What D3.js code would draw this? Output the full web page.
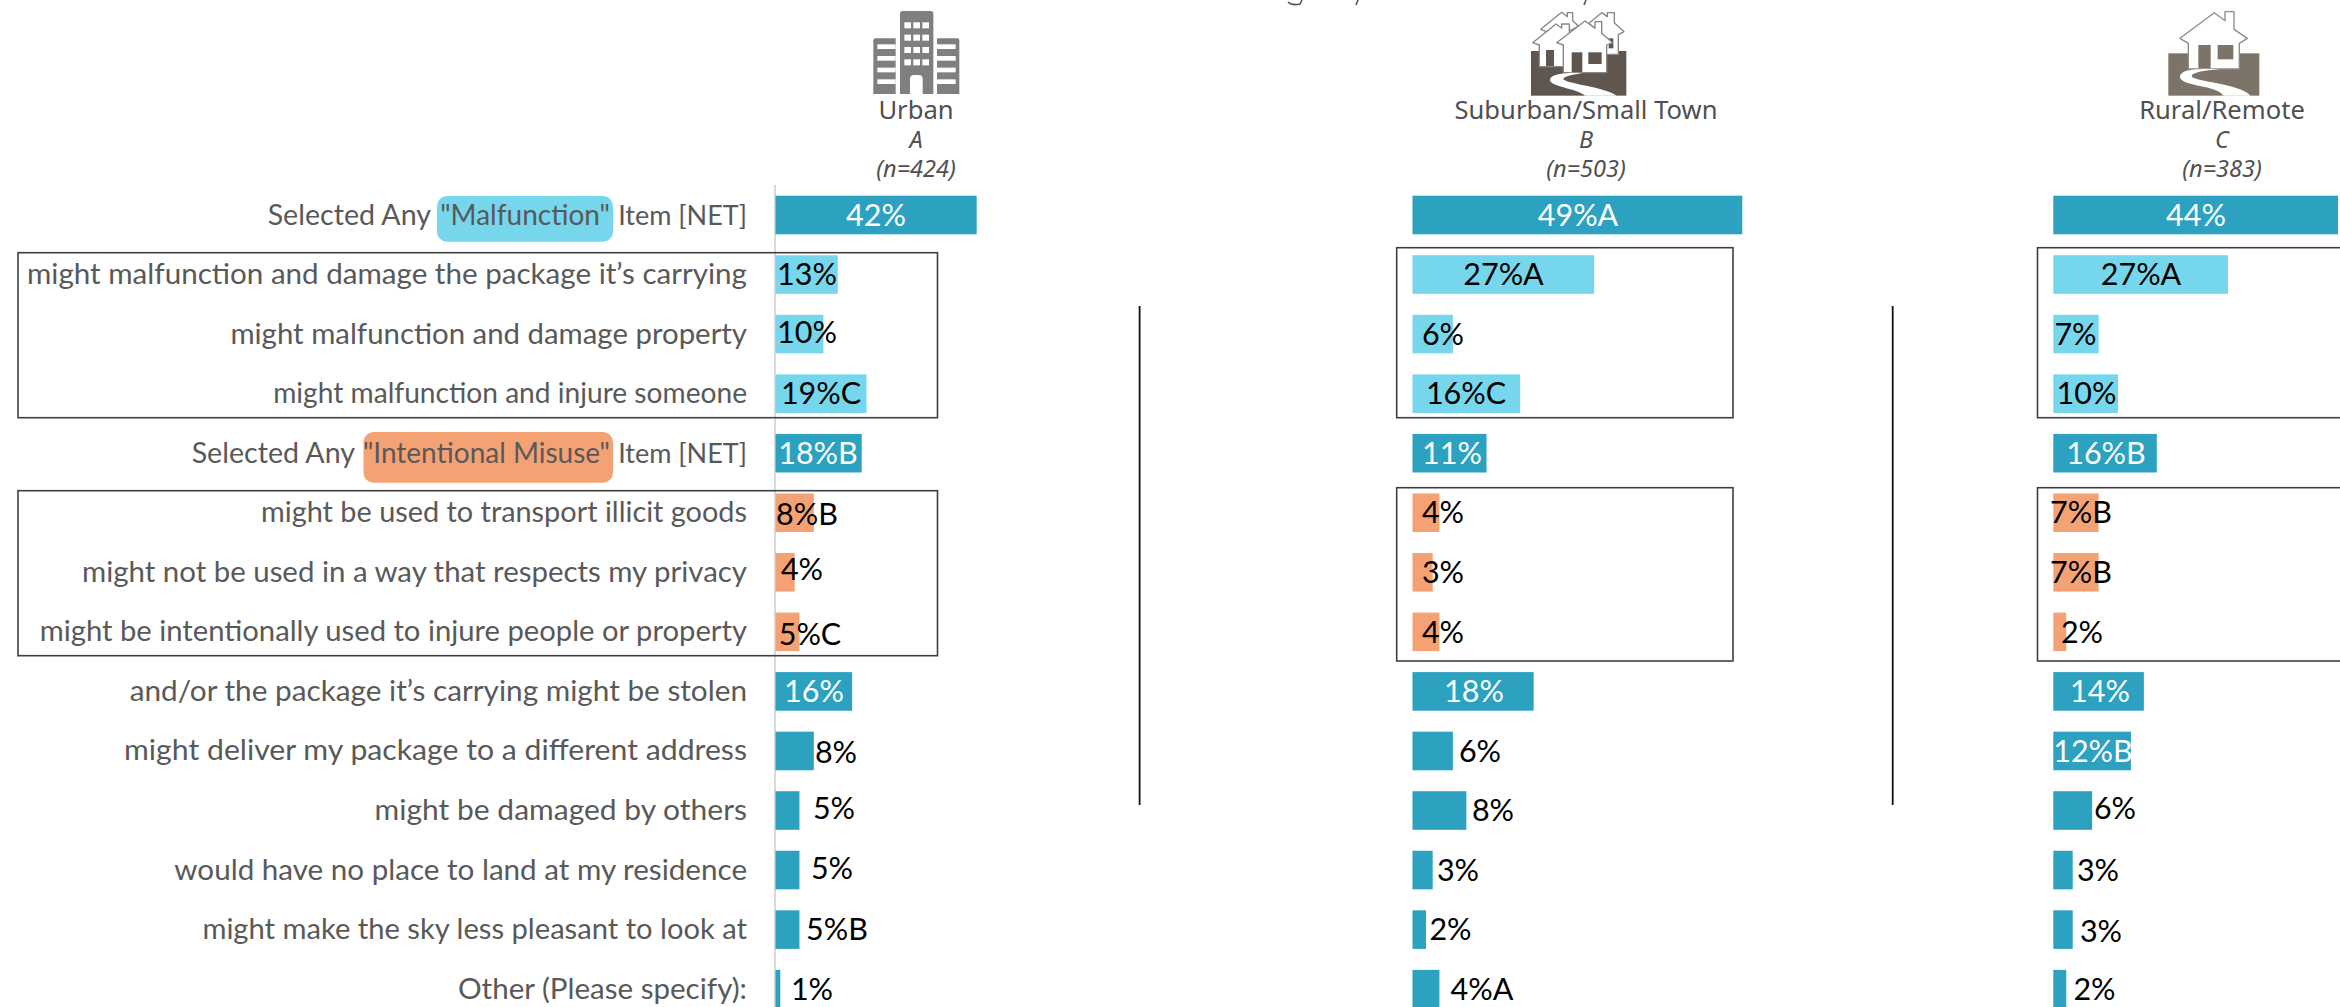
<!DOCTYPE html>
<html><head><meta charset="utf-8">
<script src="https://cdn.jsdelivr.net/npm/d3@7"></script>
<style>html,body{margin:0;padding:0;background:#fff;overflow:hidden}svg{display:block}</style>
</head><body><svg id="c" width="2340" height="1007"></svg>
<script>
const rowLabels = [
 'Selected Any "Malfunction" Item [NET]',
 'might malfunction and damage the package it’s carrying',
 'might malfunction and damage property',
 'might malfunction and injure someone',
 'Selected Any "Intentional Misuse" Item [NET]',
 'might be used to transport illicit goods',
 'might not be used in a way that respects my privacy',
 'might be intentionally used to injure people or property',
 'and/or the package it’s carrying might be stolen',
 'might deliver my package to a different address',
 'might be damaged by others',
 'would have no place to land at my residence',
 'might make the sky less pleasant to look at',
 'Other (Please specify):'
];
const rowGroup = ['net','mal','mal','mal','net','mis','mis','mis','net','net','net','net','net','net'];
const urbanValues    = [42,13,10,19,18,8,4,5,16,8,5,5,5,1];
const suburbanValues = [49,27,6,16,11,4,3,4,18,6,8,3,2,4];
const ruralValues    = [44,27,7,10,16,7,7,2,14,12,6,3,3,2];
const urbanSig    = ['','','','C','B','B','','C','','','','','B',''];
const suburbanSig = ['A','A','','C','','','','','','','','','','A'];
const ruralSig    = ['','A','','','B','B','B','','','B','','','',''];
const segmentNames = ['Urban','Suburban/Small Town','Rural/Remote'];
const segmentLetters = ['A','B','C'];
const segmentBases = ['(n=424)','(n=503)','(n=383)'];

// layout
const rowLabelWidth  = [481.5,720,516.6,473.8,557.4,486,665,707.3,617.3,623,372.4,572.7,544.6,289];
const urbanLabelX    = [876,807,807,821,818,807,802,810,814,836,834,832,837,812];
const suburbanLabelX = [1578,1503.5,1443,1466,1452,1443,1443,1443,1474,1480,1493,1458,1450.5,1482];
const ruralLabelX    = [2196,2141,2075.5,2086.5,2106,2081,2081,2082,2100,2093,2115,2098,2101,2094.5];
const urbanLabelDy    = [0,0,-2,0,0,2,-3,2.5,0,1,-2,-2,0,0];
const suburbanLabelDy = [0,0,0,0,0,0,0,0,0,0,0,0,0,0];
const ruralLabelDy    = [0,0,0,0,0,0,0,0,0,0,-2,0,2,0];
const colors = {net:'#2CA2C0', mal:'#76D6EC', mis:'#F4A274'};
const FONT = 'Lato, sans-serif', HEAD = '"Noto Sans", sans-serif';

const svg = d3.select('#c');
const y = d3.scaleBand().domain(rowLabels).range([195.7,1008.45]).paddingInner(0.352).paddingOuter(0);

// highlight pills behind category labels
const pills = [[437,196,176,45.7,colors.mal],[363.5,432,249.5,50.7,colors.mis]];
svg.selectAll('rect.pill').data(pills).join('rect').attr('class','pill')
  .attr('x',d=>d[0]).attr('y',d=>d[1]).attr('width',d=>d[2]).attr('height',d=>d[3])
  .attr('rx',10).attr('fill',d=>d[4]);

// baseline
svg.append('line').attr('x1',775).attr('x2',775).attr('y1',185).attr('y2',1007)
  .attr('stroke','#d9d9d9').attr('stroke-width',2);

// category axis
const axis = svg.append('g').attr('transform','translate(747,0)')
  .call(d3.axisLeft(y).tickSize(0).tickPadding(0));
axis.select('.domain').remove();
axis.selectAll('text').attr('font-family',FONT).attr('font-size',28).attr('fill','#595959')
  .attr('dy','0.34em').attr('x',0)
  .attr('textLength',(d,i)=>rowLabelWidth[i]).attr('lengthAdjust','spacingAndGlyphs');
// the two NET rows: three pieces, so the quoted term sits on its pill
const pieceEnds = {0:[-316,-137,0], 4:[-392,-137,0]};
const pieceSizes = [28.6,28,27];
axis.selectAll('text').each(function(d,i){
  if(!pieceEnds[i]) return;
  const m = d.match(/^(.*?) (".*?") (.*)$/);
  const t = d3.select(this).attr('textLength',null).attr('lengthAdjust',null).text(null);
  [m[1],m[2],m[3]].forEach((part,j)=>t.append('tspan').attr('x',pieceEnds[i][j]).attr('font-size',pieceSizes[j]).text(part));
});

const panels = [
 {values:urbanValues, sig:urbanSig, lx:urbanLabelX, ly:urbanLabelDy, x0:775.5, k:4.79},
 {values:suburbanValues, sig:suburbanSig, lx:suburbanLabelX, ly:suburbanLabelDy, x0:1412.5, k:6.73},
 {values:ruralValues, sig:ruralSig, lx:ruralLabelX, ly:ruralLabelDy, x0:2053.3, k:6.47}
];
// frames (under the bars)
const frames = [
 [18,252.7,919.5,165],[18,490.7,919.5,165],
 [1396.7,247.7,336.3,170],[1396.7,487.7,336.3,173.3],
 [2037.5,247.7,320,170],[2037.5,487.7,320,173.3]
];
svg.selectAll('rect.frame').data(frames).join('rect').attr('class','frame')
  .attr('x',d=>d[0]).attr('y',d=>d[1]).attr('width',d=>d[2]).attr('height',d=>d[3])
  .attr('fill','none').attr('stroke','#404040').attr('stroke-width',1.6);

panels.forEach(p=>{
  const x = d3.scaleLinear().domain([0,100]).range([p.x0,p.x0+100*p.k]);
  const g = svg.append('g');
  g.selectAll('rect').data(p.values).join('rect')
    .attr('x',x(0)).attr('y',(d,i)=>y(rowLabels[i]))
    .attr('width',d=>x(d)-x(0)).attr('height',y.bandwidth())
    .attr('fill',(d,i)=>colors[rowGroup[i]]);
  g.selectAll('text').data(p.values).join('text')
    .attr('x',(d,i)=>p.lx[i]).attr('y',(d,i)=>y(rowLabels[i])+y.bandwidth()/2+p.ly[i])
    .attr('dy','0.35em').attr('text-anchor','middle')
    .attr('font-family',FONT).attr('font-size',30.5)
    .attr('fill',(d,i)=>rowGroup[i]==='net'&&d>=11?'#fff':'#000')
    .text((d,i)=>d+'%'+p.sig[i]);
});

// separators
svg.selectAll('line.sep').data([1139.6,1892.7]).join('line').attr('class','sep')
  .attr('x1',d=>d).attr('x2',d=>d).attr('y1',306).attr('y2',805)
  .attr('stroke','#111').attr('stroke-width',1.8);

// headers
const headX = [916,1586,2222];
headX.forEach((cx,i)=>{
  svg.append('text').attr('x',cx).attr('y',119).attr('text-anchor','middle').attr('font-family',HEAD)
    .attr('font-size',25.6).attr('fill','#505050').text(segmentNames[i]);
  svg.append('text').attr('x',cx).attr('y',148).attr('text-anchor','middle').attr('font-family',HEAD)
    .attr('font-size',23.5).attr('font-style','italic').attr('fill','#505050').text(segmentLetters[i]);
  svg.append('text').attr('x',cx).attr('y',177).attr('text-anchor','middle').attr('font-family',HEAD)
    .attr('font-size',23.5).attr('font-style','italic').attr('fill','#505050').text(segmentBases[i]);
});

// icons (drawn in 3x crop units)
function icon(tx){ return svg.append('g').attr('transform',`translate(${tx},0) scale(${1/3})`); }
// building
const b = icon(840), bc='#7f7f7f';
b.append('path').attr('fill',bc).attr('d','M188 33H272Q280 33 280 41V282H180V41Q180 33 188 33Z');
b.append('path').attr('fill',bc).attr('d','M106 115H167V282H100V121Q100 115 106 115Z');
b.append('path').attr('fill',bc).attr('d','M291 115H352Q358 115 358 121V282H291Z');
[67,104,141,178].forEach(wy=>[193,220,247].forEach(wx=>
  b.append('rect').attr('x',wx).attr('y',wy).attr('width',20).attr('height',18).attr('fill','#fff')));
[133,168,203,238].forEach(sy=>{
  b.append('rect').attr('x',112).attr('y',sy).attr('width',55).attr('height',14).attr('fill','#fff');
  b.append('rect').attr('x',291).attr('y',sy).attr('width',56).attr('height',14).attr('fill','#fff');
});
b.append('path').attr('fill','#fff').attr('d','M210 282V237Q210 225 222 225H236Q248 225 248 237V282Z');

// suburb
const s = icon(1450), sc='#5F574F', so='#8a8580';
s.append('rect').attr('x',243).attr('y',153).attr('width',286).attr('height',134).attr('fill',sc);
const house=(g,d,stroke)=>g.append('path').attr('d',d).attr('fill','#fff').attr('stroke',stroke).attr('stroke-width',4).attr('stroke-linejoin','round');
house(s,'M335 37L352 50V38H368V62L385 78L365 90L290 95L272 88Z',so);
house(s,'M455 38L472 50V38H493V68L522 95L505 104V163H450V100L417 70Z',so);
house(s,'M318 72L335 84V72H358V100L392 128L362 135V200H268V135L248 128Z',so);
s.append('rect').attr('x',288).attr('y',150).attr('width',24).attr('height',48).attr('fill',sc);
s.append('rect').attr('x',476).attr('y',115).attr('width',14).attr('height',30).attr('fill',sc);
house(s,'M405 63L435 85V65H455V100L488 128L470 135V218H340V135L320 128Z',so);
s.append('rect').attr('x',365).attr('y',157).attr('width',32).attr('height',61).attr('fill',sc);
s.append('rect').attr('x',415).attr('y',157).attr('width',40).attr('height',35).attr('fill',sc);
s.append('path').attr('fill','#fff').attr('d','M385 218C330 218 300 225 300 240C300 260 380 265 405 287H500C470 262 340 250 340 237C340 228 380 222 400 218Z');

// rural
const r = icon(2120), rc='#7D7469', ro='#8f8a84';
r.append('rect').attr('x',145).attr('y',160).attr('width',273).attr('height',127).attr('fill',rc);
house(r,'M283 38L315 62V35H342V88L382 115L358 130V207H205V130L180 115Z',ro);
r.append('rect').attr('x',235).attr('y',135).attr('width',37).attr('height',70).attr('fill',rc);
r.append('rect').attr('x',293).attr('y',135).attr('width',47).attr('height',43).attr('fill',rc);
r.append('path').attr('fill','#fff').attr('d','M260 207C200 207 180 215 180 232C185 260 290 255 310 287H392C360 250 215 245 215 228C215 218 250 212 300 207Z');

// descender fragments of the cropped title
svg.append('g').attr('fill','none').attr('stroke','#555').attr('stroke-width',1.6)
 .selectAll('path').data(['M1288 2Q1292 6 1300 4L1302 0','M1358 0L1356 5','M1586 0L1584 5'])
 .join('path').attr('d',d=>d);
</script></body></html>
